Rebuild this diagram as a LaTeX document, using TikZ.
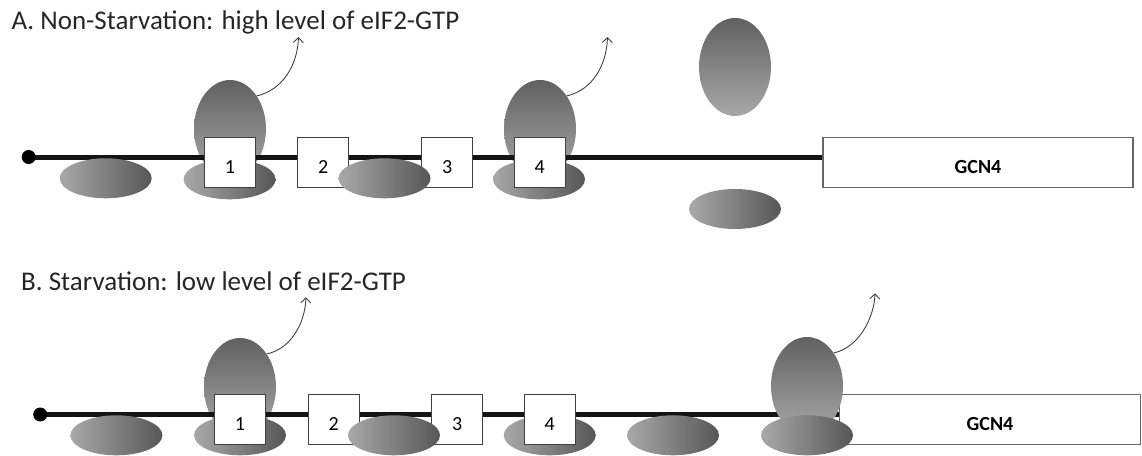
\documentclass[tikz,border=0pt]{standalone}
\usepackage{fontspec}
\setmainfont{Carlito}
\usetikzlibrary{arrows.meta,shapes.geometric}
\pgfdeclarelayer{back}
\pgfdeclarelayer{strand}
\pgfsetlayers{back,strand,main}
\tikzset{
  bigrib/.style={ellipse, minimum width=72pt, minimum height=98pt, inner sep=0pt, top color=black!62, bottom color=black!34, draw=none},
  smallrib/.style={ellipse, minimum width=92pt, minimum height=40pt, inner sep=0pt, left color=black!34, right color=black!66, draw=none},
  uorf/.style={rectangle, draw=black!75, line width=1pt, fill=white, minimum width=51pt, minimum height=50pt, inner sep=0pt, text height=22.5pt, text depth=0pt, font=\fontsize{20}{20}\selectfont},
  gcnbox/.style={rectangle, draw=black!60, line width=1.3pt, fill=white, minimum height=50pt, inner sep=0pt, text height=21pt, text depth=0pt, font=\bfseries\fontsize{20}{20}\selectfont},
  mrna/.style={line width=5pt, draw=black!92},
  capdot/.style={circle, fill=black, minimum size=14pt, inner sep=0pt},
  release/.style={draw=black!75, line width=0.9pt, -{Straight Barb[length=5pt,width=10pt]}},
  paneltitle/.style={anchor=base west, inner sep=0pt, font=\fontsize{27}{27}\selectfont, text=black!85},
}
\begin{document}
\begin{tikzpicture}[x=1pt,y=-1pt]
\useasboundingbox (0,0) rectangle (1142,455);
% ---------------- Panel A ----------------
\node[paneltitle] (titleA) at (11.5,29.3) {A. Non-Starvation: high level of eIF2-GTP};
\begin{pgfonlayer}{back}
  \node[bigrib] (bigA1) at (230,129) {};
  \node[bigrib] (bigA4) at (540,129) {};
\end{pgfonlayer}
\node[bigrib] (bigAfree) at (735,67) {};
\node[capdot] (capA) at (28.7,157) {};
\node[gcnbox, minimum width=310pt] (gcnA) at (978,162.5) {GCN4};
\begin{pgfonlayer}{strand}
  \draw[mrna] (capA.center) -- (capA.center -| gcnA.west);
\end{pgfonlayer}
\node[smallrib] (smA0) at (105.7,178.3) {};
\node[smallrib] (smA1) at (229.6,179.3) {};
\node[smallrib] (smA4) at (539,179.3) {};
\node[smallrib] (smAfree) at (735,209) {};
\node[uorf] (uA1) at (230,162.4) {1};
\node[uorf] (uA2) at (323.3,162.4) {2};
\node[uorf] (uA3) at (447.2,162.4) {3};
\node[uorf] (uA4) at (539.6,162.4) {4};
\node[smallrib] (smA23) at (384.5,178.3) {};
\coordinate (tipA1) at (298.5,37);
\coordinate (tipA4) at (607.5,37);
\draw[release] (bigA1.51) .. controls +(26,-6) and +(-1,28) .. (tipA1);
\draw[release] (bigA4.51) .. controls +(26,-6) and +(-1,28) .. (tipA4);
% ---------------- Panel B ----------------
\node[paneltitle] (titleB) at (21,290) {B. Starvation: low level of eIF2-GTP};
\begin{pgfonlayer}{back}
  \node[bigrib] (bigB1) at (240,387) {};
\end{pgfonlayer}
\node[capdot] (capB) at (40.2,414.5) {};
\node[gcnbox, minimum width=301pt] (gcnB) at (990,419.8) {GCN4};
\begin{pgfonlayer}{strand}
  \draw[mrna] (capB.center) -- (capB.center -| gcnB.west);
\end{pgfonlayer}
\node[smallrib] (smB0) at (116.4,435.3) {};
\node[smallrib] (smB1) at (240,435.3) {};
\node[smallrib] (smB4) at (549.7,435.3) {};
\node[smallrib] (smB45) at (673,435.3) {};
\node[uorf] (uB1) at (240,419.3) {1};
\node[uorf] (uB2) at (333.6,419.3) {2};
\node[uorf] (uB3) at (457.3,419.3) {3};
\node[uorf] (uB4) at (549.7,419.3) {4};
\node[smallrib] (smB23) at (394,435.3) {};
\node[bigrib] (bigBg) at (807,386) {};
\node[smallrib] (smBg) at (807,435.3) {};
\coordinate (tipB1) at (306,297.3);
\coordinate (tipBg) at (875,293.3);
\draw[release] (bigB1.51) .. controls +(24,-5) and +(-1,26) .. (tipB1);
\draw[release] (bigBg.51) .. controls +(24,-5) and +(-1,26) .. (tipBg);
\end{tikzpicture}
\end{document}
